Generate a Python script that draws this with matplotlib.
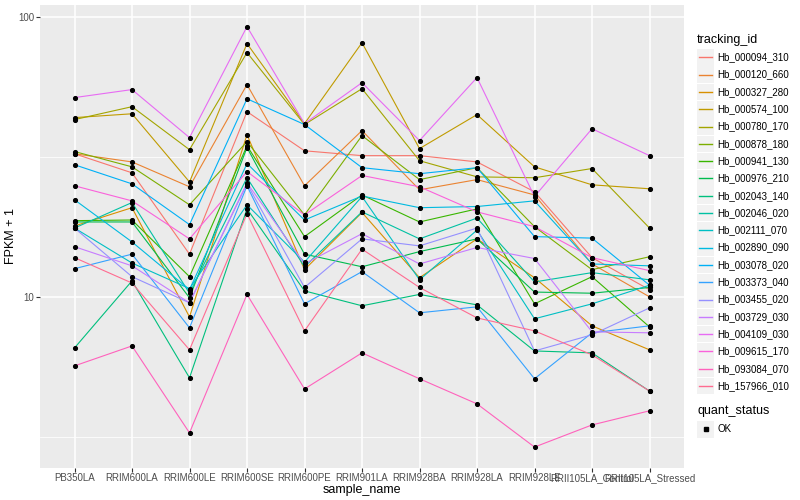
import matplotlib
matplotlib.use("Agg")
import matplotlib.pyplot as plt
from matplotlib.lines import Line2D
from matplotlib.patches import Rectangle

plt.rcParams['font.family'] = ['Liberation Sans', 'DejaVu Sans']

# samples on the x axis
samples = ["PB350LA", "RRIM600LA", "RRIM600LE", "RRIM600SE", "RRIM600PE",
           "RRIM901LA", "RRIM928BA", "RRIM928LA", "RRIM928LE",
           "RRII105LA_Control", "RRII105LA_Stressed"]

tracking_ids = ["Hb_000094_310", "Hb_000120_660", "Hb_000327_280", "Hb_000574_100",
                "Hb_000780_170", "Hb_000878_180", "Hb_000941_130", "Hb_000976_210",
                "Hb_002043_140", "Hb_002046_020", "Hb_002111_070", "Hb_002890_090",
                "Hb_003078_020", "Hb_003373_040", "Hb_003455_020", "Hb_003729_030",
                "Hb_004109_030", "Hb_009615_170", "Hb_093084_070", "Hb_157966_010"]

# ggplot hue palette, 20 levels
colors = ["#F8766D", "#EA8331", "#D89000", "#C09B00", "#A3A500", "#7CAE00", "#39B600",
          "#00BB4E", "#00BF7D", "#00C1A3", "#00BFC4", "#00BAE0", "#00B0F6", "#35A2FF",
          "#9590FF", "#C77CFF", "#E76BF3", "#FA62DB", "#FF62BC", "#FF6C91"]

# FPKM + 1 for each gene, one value per sample
hb_000094_310 = [32.4, 27.7, 14.2, 45.8, 33.2, 31.9, 31.9, 30.3, 23.7, 13.8, 10.6]
hb_000120_660 = [32.4, 30.3, 24.7, 57.2, 24.9, 39.2, 24.1, 26.2, 23.1, 13.1, 10.0]
hb_000327_280 = [17.9, 20.8, 8.48, 37.9, 12.5, 20.0, 11.7, 16.1, 11.7, 7.88, 6.47]
hb_000574_100 = [43.6, 45.0, 25.7, 80.1, 41.5, 80.7, 33.8, 44.7, 29.1, 25.1, 24.3]
hb_000780_170 = [42.9, 47.7, 33.5, 74.4, 41.2, 55.3, 30.6, 26.8, 26.6, 28.7, 17.6]
hb_000878_180 = [33.0, 29.1, 21.3, 35.8, 19.6, 37.6, 26.2, 28.9, 17.8, 12.5, 13.9]
hb_000941_130 = [18.7, 18.8, 11.8, 34.6, 16.4, 23.1, 18.5, 20.6, 9.44, 11.8, 7.81]
hb_000976_210 = [18.5, 18.5, 9.92, 34.1, 14.2, 12.8, 14.5, 16.1, 10.4, 10.3, 10.8]
hb_002043_140 = [6.57, 11.4, 5.14, 20.6, 10.5, 9.29, 10.2, 9.36, 6.41, 6.31, 4.61]
hb_002046_020 = [17.6, 21.7, 10.3, 26.6, 12.8, 20.1, 16.1, 19.1, 11.3, 12.2, 11.5]
hb_002111_070 = [17.6, 13.2, 10.7, 21.3, 13.3, 22.8, 11.5, 17.3, 8.35, 9.44, 11.0]
hb_002890_090 = [22.2, 15.7, 10.6, 29.9, 18.8, 22.9, 20.8, 21.0, 22.0, 13.1, 12.9]
hb_003078_020 = [29.6, 25.3, 18.1, 50.9, 41.2, 28.9, 27.5, 28.9, 16.4, 16.2, 11.0]
hb_003373_040 = [12.6, 14.2, 7.75, 24.9, 9.44, 12.3, 8.77, 9.21, 5.10, 7.44, 7.88]
hb_003455_020 = [17.6, 11.8, 9.52, 25.3, 10.8, 16.1, 15.2, 17.6, 6.41, 7.32, 9.13]
hb_003729_030 = [15.1, 12.9, 9.52, 25.5, 13.1, 16.8, 13.1, 15.0, 13.7, 7.50, 7.44]
hb_004109_030 = [51.4, 54.9, 37.0, 92.1, 41.5, 58.1, 36.1, 60.6, 22.8, 39.8, 31.9]
hb_009615_170 = [24.9, 22.0, 16.1, 28.0, 19.6, 27.1, 24.7, 20.1, 17.8, 13.8, 12.4]
hb_093084_070 = [5.67, 6.68, 3.27, 10.2, 4.69, 6.31, 5.10, 4.15, 2.91, 3.49, 3.92]
hb_157966_010 = [13.8, 11.2, 6.47, 19.8, 7.56, 14.8, 10.8, 8.41, 7.56, 6.21, 4.61]

series = [hb_000094_310, hb_000120_660, hb_000327_280, hb_000574_100, hb_000780_170,
          hb_000878_180, hb_000941_130, hb_000976_210, hb_002043_140, hb_002046_020,
          hb_002111_070, hb_002890_090, hb_003078_020, hb_003373_040, hb_003455_020,
          hb_003729_030, hb_004109_030, hb_009615_170, hb_093084_070, hb_157966_010]

fig = plt.figure(figsize=(8, 5), dpi=100)
ax = fig.add_axes([0.05, 0.064, 0.805, 0.926])
ax.set_facecolor("#EBEBEB")

x = list(range(len(samples)))
for vals, col in zip(series, colors):
    ax.plot(x, vals, color=col, lw=0.8, zorder=3)
for vals in series:
    ax.plot(x, vals, ls="none", marker="o", ms=2.7, color="black", zorder=4)

ax.set_yscale("log")
ax.set_ylim(2.45, 110)
ax.set_xlim(-0.6, len(samples) - 0.4)
ax.set_yticks([10, 100])
ax.set_yticklabels(["10", "100"])
ax.set_yticks([10 ** 0.5, 10 ** 1.5], minor=True)
ax.yaxis.set_minor_formatter(plt.NullFormatter())
ax.set_xticks(x)
ax.set_xticklabels(samples)

ax.grid(which="major", color="white", lw=1.1, zorder=1)
ax.grid(which="minor", axis="y", color="white", lw=0.55, zorder=1)
ax.set_axisbelow(True)
for s in ax.spines.values():
    s.set_visible(False)
ax.tick_params(which="major", length=3, width=0.8, color="#333333",
               labelsize=7, labelcolor="#4D4D4D", pad=1)
ax.tick_params(axis="x", which="major", pad=0.5)
ax.tick_params(which="minor", length=0)

ax.set_xlabel("sample_name", fontsize=9)
ax.set_ylabel("FPKM + 1", fontsize=9)
ax.xaxis.set_label_coords(0.5, -0.035)
ax.yaxis.set_label_coords(-0.036, 0.5)

# legend drawn by hand, ggplot style
def fx(px):
    return px / 800.0

def fy(py):
    return 1 - py / 500.0

fig.text(fx(697), fy(40), "tracking_id", fontsize=9, va="center", ha="left")
for i, (name, col) in enumerate(zip(tracking_ids, colors)):
    cy = 57.3 + 17.3 * i
    fig.add_artist(Rectangle((fx(697), fy(cy + 8.3)), fx(17), 16.6 / 500.0,
                             transform=fig.transFigure, facecolor="#F2F2F2",
                             edgecolor="none", zorder=1))
    fig.add_artist(Line2D([fx(699), fx(712)], [fy(cy), fy(cy)], color=col, lw=1.0,
                          transform=fig.transFigure, zorder=5))
    fig.text(fx(717), fy(cy), name, fontsize=7, va="center", ha="left")

fig.text(fx(697), fy(411), "quant_status", fontsize=9, va="center", ha="left")
fig.add_artist(Rectangle((fx(697), fy(437.5)), fx(17), 16.6 / 500.0,
                         transform=fig.transFigure, facecolor="#F2F2F2",
                         edgecolor="none", zorder=1))
fig.add_artist(Line2D([fx(705.5)], [fy(429)], ls="none", marker="s", ms=2.5, color="black",
                      transform=fig.transFigure, zorder=5))
fig.text(fx(717), fy(429), "OK", fontsize=7, va="center", ha="left")

fig.savefig("out.png", dpi=100)
